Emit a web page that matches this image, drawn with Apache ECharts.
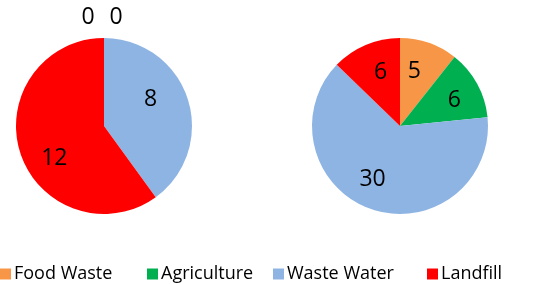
<!DOCTYPE html>
<html>
<head>
<meta charset="utf-8">
<script src="https://cdn.jsdelivr.net/npm/echarts@6/dist/echarts.min.js"></script>
<style>
html, body { margin: 0; padding: 0; background: #fff; }
#chart { width: 552px; height: 284px; }
</style>
</head>
<body>
<div id="chart"></div>
<script>
var categories = ['Food Waste', 'Agriculture', 'Waste Water', 'Landfill'];
var colors = ['#F79646', '#00B050', '#8EB4E3', '#FF0000'];
var leftValues = [0, 0, 8, 12];
var rightValues = [5, 6, 30, 6];

// nudges so the value labels sit where Excel's "best fit" put them
var leftLabelOffsets = [[-16, -62], [12, -62], [2, -12], [-5, 18]];
var rightLabelOffsets = [[-1, -10], [13, -3], [-12, 9], [-1, -10]];
var legendLefts = [0, 147, 273, 427];

function buildData(values, offsets) {
	var data = [];
	for (var i = 0; i < values.length; i++) {
		data.push({
			name: categories[i],
			value: values[i],
			itemStyle: { color: colors[i] },
			label: { offset: offsets[i] }
		});
	}
	return data;
}

function pieSeries(values, offsets, centerX) {
	return {
		type: 'pie',
		center: [centerX, 126],
		radius: 88,
		startAngle: 90,
		clockwise: true,
		silent: true,
		label: {
			show: true,
			position: 'inside',
			formatter: '{c}',
			color: '#000',
			fontSize: 23,
			fontFamily: 'Open Sans'
		},
		labelLine: { show: false },
		emphasis: { disabled: true },
		data: buildData(values, offsets)
	};
}

var legends = [];
for (var i = 0; i < categories.length; i++) {
	legends.push({
		data: [categories[i]],
		left: legendLefts[i],
		top: 265,
		padding: 0,
		icon: 'rect',
		itemWidth: 11,
		itemHeight: 11,
		itemGap: 0,
		textStyle: { fontSize: 18, color: '#000', fontFamily: 'Open Sans', padding: [0, 0, 0, -2] }
	});
}

var myChart = echarts.init(document.getElementById('chart'));
myChart.setOption({
	animation: false,
	legend: legends,
	series: [pieSeries(leftValues, leftLabelOffsets, 104), pieSeries(rightValues, rightLabelOffsets, 400)]
});
</script>
</body>
</html>
